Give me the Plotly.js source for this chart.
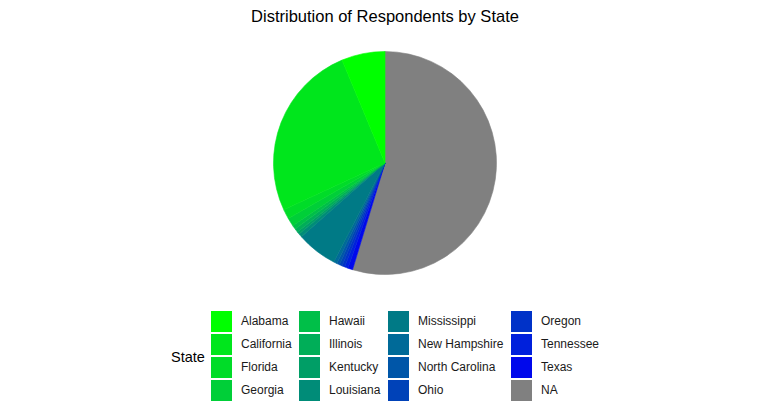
<!DOCTYPE html>
<html>
<head>
<meta charset="utf-8">
<script src="https://cdn.plot.ly/plotly-3.0.1.min.js"></script>
<style>html,body{margin:0;padding:0;background:#fff;}#chart{width:770px;height:402px;}</style>
</head>
<body>
<div id="chart"></div>
<script>
// ---- data ----
var states = ["Alabama", "California", "Florida", "Georgia", "Hawaii", "Illinois", "Kentucky", "Louisiana",
              "Mississippi", "New Hampshire", "North Carolina", "Ohio", "Oregon", "Tennessee", "Texas", "NA"];
var counts = [63, 256, 14, 12, 6, 5, 4, 5, 59, 5, 4, 4, 4, 5, 7, 547];
var colors = ["#00FF00", "#00E61C", "#00DC28", "#00CF38", "#00BF48", "#00AE58", "#009E66", "#008C78",
              "#007A86", "#006A98", "#0056A8", "#0042B8", "#0032C8", "#0020DC", "#0008EC", "#808080"];
var legendTitle = "State";
var chartTitle = "Distribution of Respondents by State";

// ---- layout constants (pixels) ----
var W = 770, H = 402;
var pieCx = 385, pieCy = 163, pieR = 111.5;
var colLeft = [211, 299, 388, 511];
var rowTop = 311, rowPitch = 23, keySize = 21, textGap = 30;

var lx = [], ly = [], tx = [];
states.forEach(function (s, i) {
  var c = Math.floor(i / 4), r = i % 4;
  lx.push(colLeft[c] + keySize / 2);
  ly.push(rowTop + r * rowPitch + keySize / 2);
  tx.push(colLeft[c] + textGap);
});

// slices run counterclockwise from 12 o'clock starting with Alabama:
// equivalently, clockwise from 12 o'clock in reversed order
var revColors = colors.slice().reverse();
var pie = {
  type: "pie",
  labels: states.slice().reverse(),
  values: counts.slice().reverse(),
  sort: false,
  direction: "clockwise",
  rotation: 0,
  marker: { colors: revColors, line: { width: 0.6, color: revColors } },
  textinfo: "none",
  hoverinfo: "skip",
  showlegend: false,
  domain: {
    x: [(pieCx - pieR) / W, (pieCx + pieR) / W],
    y: [1 - (pieCy + pieR) / H, 1 - (pieCy - pieR) / H]
  }
};

var keys = {
  type: "scatter", mode: "markers",
  x: lx, y: ly,
  marker: { symbol: "square", size: keySize, color: colors, line: { width: 0 } },
  hoverinfo: "skip", showlegend: false, cliponaxis: false
};

var labels = {
  type: "scatter", mode: "text",
  x: tx, y: ly, text: states,
  textposition: "middle right",
  textfont: { family: "Liberation Sans, Arial, sans-serif", size: 12, color: "#1a1a1a" },
  hoverinfo: "skip", showlegend: false, cliponaxis: false
};

var layout = {
  width: W, height: H,
  margin: { l: 0, r: 0, t: 0, b: 0 },
  paper_bgcolor: "#ffffff", plot_bgcolor: "rgba(0,0,0,0)",
  title: {
    text: chartTitle, x: 0.5, xanchor: "center", xref: "paper",
    y: 1 - 16 / H, yanchor: "middle", yref: "container",
    font: { family: "Liberation Sans, Arial, sans-serif", size: 16.5, color: "#000000" }
  },
  xaxis: { range: [0, W], visible: false, fixedrange: true, domain: [0, 1] },
  yaxis: { range: [H, 0], visible: false, fixedrange: true, domain: [0, 1] },
  annotations: [{
    text: legendTitle, xref: "x", yref: "y", x: 169, y: 357,
    xanchor: "left", yanchor: "middle", showarrow: false,
    font: { family: "Liberation Sans, Arial, sans-serif", size: 14.5, color: "#000000" }
  }],
  showlegend: false
};

Plotly.newPlot("chart", [pie, keys, labels], layout, { displayModeBar: false, staticPlot: true });
</script>
</body>
</html>
